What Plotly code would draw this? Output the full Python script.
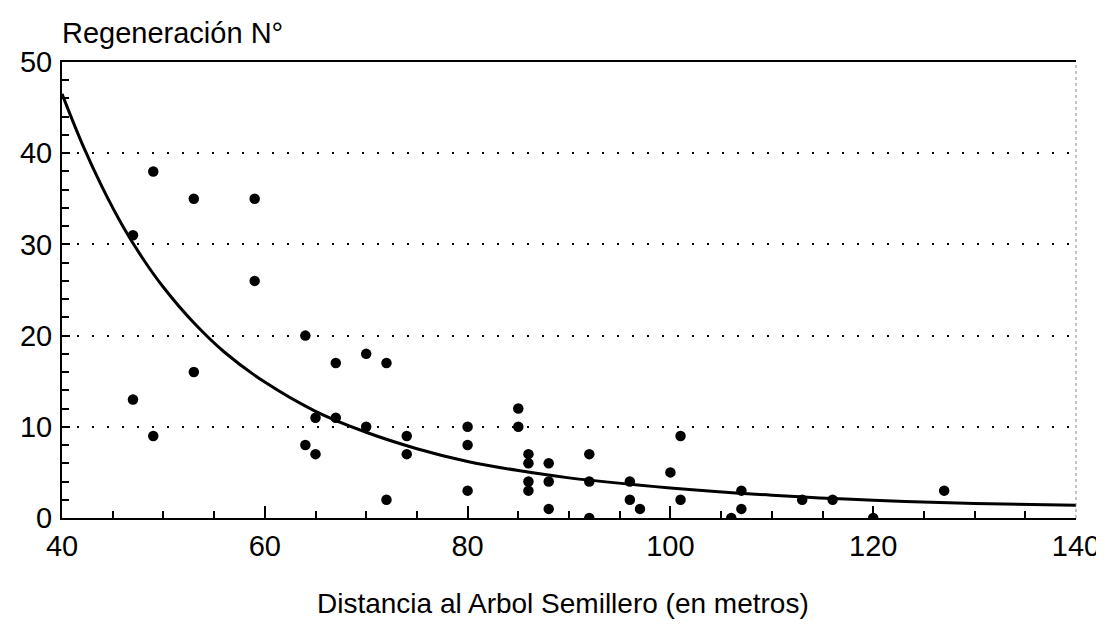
import plotly.graph_objects as go

# Observed points (distance in m, regeneration count)
dist = [47, 47, 49, 49, 53, 53, 59, 59, 64, 64, 65, 65, 67, 67, 70, 70, 72, 72,
        74, 74, 80, 80, 80, 85, 85, 86, 86, 86, 86, 88, 88, 88, 92, 92, 92,
        96, 96, 97, 100, 101, 101, 106, 107, 107, 113, 116, 120, 127]
regen = [31, 13, 38, 9, 35, 16, 35, 26, 20, 8, 11, 7, 17, 11, 18, 10, 17, 2,
         9, 7, 10, 8, 3, 12, 10, 7, 6, 4, 3, 6, 4, 1, 7, 4, 0,
         4, 2, 1, 5, 9, 2, 0, 3, 1, 2, 2, 0, 3]

# Fitted curve
curve_x = [40, 42, 44, 46, 48, 50, 53, 56, 60, 65, 70, 75, 80, 85, 90, 100, 110, 120, 130, 140]
curve_y = [46.5, 41.0, 36.2, 32.0, 28.4, 25.3, 21.4, 18.2, 14.9, 11.7, 9.4, 7.6, 6.2, 5.2, 4.4, 3.3, 2.5, 1.95, 1.6, 1.4]

x_ticks = [40, 60, 80, 100, 120, 140]
y_ticks = [0, 10, 20, 30, 40, 50]
y_title = "Regeneración N°"
x_title = "Distancia al Arbol Semillero (en metros)"

FONT = "Liberation Sans, Arial, sans-serif"

fig = go.Figure()
fig.add_trace(go.Scatter(x=curve_x, y=curve_y, mode="lines", line=dict(color="black", width=3, shape="spline"),
                         hoverinfo="skip", showlegend=False))
fig.add_trace(go.Scatter(x=dist, y=regen, mode="markers",
                         marker=dict(color="black", size=10.5), showlegend=False))

fig.update_layout(
    width=1104, height=634,
    margin=dict(l=54, r=33, t=54, b=124),
    paper_bgcolor="white", plot_bgcolor="white",
    font=dict(family=FONT, size=28, color="black"),
    xaxis=dict(range=[40, 140], tickvals=x_ticks, showgrid=False, zeroline=False,
               showline=True, linecolor="black", linewidth=2, mirror=True,
               ticks="inside", ticklen=12, tickwidth=1.5, tickcolor="black",
               minor=dict(dtick=5, ticks="inside", ticklen=7, tickwidth=1.5, tickcolor="black"),
               ticklabelstandoff=1, tickfont=dict(size=29)),
    yaxis=dict(range=[0, 50], tickvals=y_ticks, showgrid=True, gridcolor="black",
               gridwidth=2, griddash="2px,13px", zeroline=False,
               showline=True, linecolor="black", linewidth=2,
               ticks="inside", ticklen=8, tickwidth=1.5, tickcolor="black",
               minor=dict(dtick=2, ticks="inside", ticklen=7, tickwidth=1.5, tickcolor="black"),
               ticklabelstandoff=2, tickfont=dict(size=29)),
    annotations=[
        dict(text=y_title, xref="paper", yref="paper", x=0, y=1, xanchor="left", yanchor="bottom",
             xshift=-2, yshift=11, showarrow=False, font=dict(size=29)),
        dict(text=x_title, xref="paper", yref="paper", x=0.5, y=0, xanchor="center", yanchor="top",
             xshift=-6, yshift=-68, showarrow=False, font=dict(size=28)),
    ],
    shapes=[dict(type="line", xref="paper", yref="paper", x0=1, x1=1, y0=0, y1=1,
                 line=dict(color="#888", width=1, dash="dot"))],
)

fig.write_html("out.html")
